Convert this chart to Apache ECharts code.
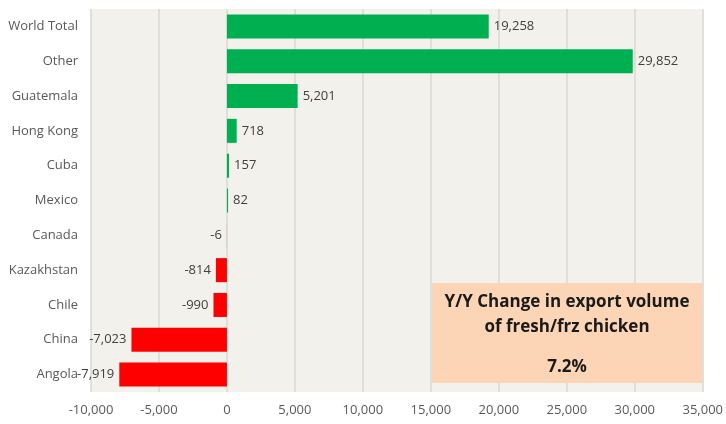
<!DOCTYPE html>
<html>
<head>
<meta charset="utf-8">
<script src="https://cdn.jsdelivr.net/npm/echarts@6/dist/echarts.min.js"></script>
<style>
  html, body { margin: 0; padding: 0; background: #fff; }
  #chart { width: 726px; height: 424px; }
</style>
</head>
<body>
<div id="chart"></div>
<script>
// countries, top to bottom as in the picture
const countries = ['World Total', 'Other', 'Guatemala', 'Hong Kong', 'Cuba', 'Mexico',
    'Canada', 'Kazakhstan', 'Chile', 'China', 'Angola'];
const changes = [19258, 29852, 5201, 718, 157, 82, -6, -814, -990, -7023, -7919];
const boxLines = ['Y/Y Change in export volume', 'of fresh/frz chicken'];
const boxValue = '7.2%';

const font = 'Open Sans, Liberation Sans, sans-serif';
const fmt = v => v.toLocaleString('en-US');

const chart = echarts.init(document.getElementById('chart'), null, {renderer: 'canvas'});

chart.setOption({
    animation: false,
    grid: {left: 91, right: 20, top: 9, bottom: 32, containLabel: false,
        show: true, backgroundColor: '#f3f1ec', borderWidth: 0},
    xAxis: {
        type: 'value',
        min: -10000,
        max: 35000,
        interval: 5000,
        axisLine: {show: false},
        axisTick: {show: false},
        splitLine: {show: true, lineStyle: {color: '#d9d7d2', width: 1.5}},
        axisLabel: {color: '#595959', fontFamily: font, fontSize: 13, margin: 12,
            formatter: v => fmt(v)},
    },
    yAxis: {
        type: 'category',
        inverse: true,
        data: countries,
        axisLine: {show: false},
        axisTick: {show: false},
        axisLabel: {color: '#595959', fontFamily: font, fontSize: 13, margin: 13},
    },
    series: [{
        type: 'bar',
        barCategoryGap: '31%',
        barMinWidth: 2,
        data: changes.map(v => ({
            value: v,
            itemStyle: {color: v >= 0 ? '#00b050' : '#ff0000'},
            label: {position: v >= 0 ? 'right' : 'left'},
        })),
        label: {
            show: true,
            color: '#404040',
            fontFamily: font,
            fontSize: 13,
            distance: 5,
            formatter: p => fmt(p.value),
        },
    }],
    graphic: [{
        type: 'rect',
        left: 432,
        top: 283,
        shape: {width: 270, height: 100},
        style: {fill: '#fbd5b5'},
        z: 10,
    }, {
        type: 'text',
        x: 567,
        y: 302,
        style: {text: boxLines[0], fill: '#1a1a1a', font: 'bold 17px ' + font,
            align: 'center', verticalAlign: 'middle'},
        z: 11,
    }, {
        type: 'text',
        x: 567,
        y: 327,
        style: {text: boxLines[1], fill: '#1a1a1a', font: 'bold 17px ' + font,
            align: 'center', verticalAlign: 'middle'},
        z: 11,
    }, {
        type: 'text',
        x: 567,
        y: 367,
        style: {text: boxValue, fill: '#1a1a1a', font: 'bold 17px ' + font,
            align: 'center', verticalAlign: 'middle'},
        z: 11,
    }],
});
</script>
</body>
</html>
